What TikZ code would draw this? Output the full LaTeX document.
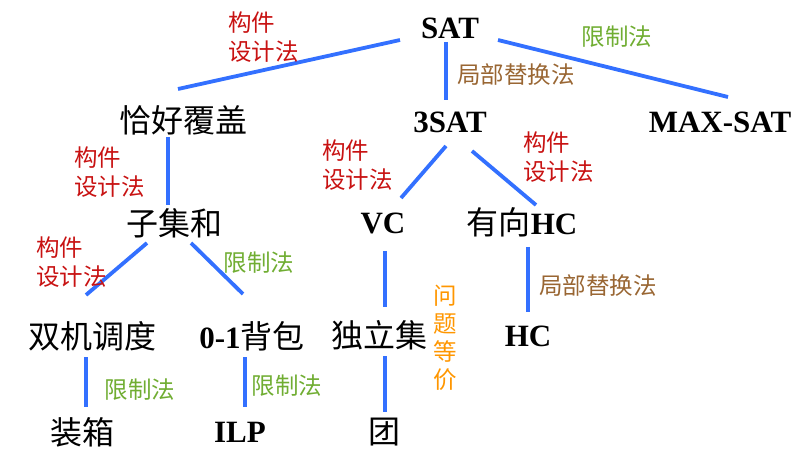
\documentclass[tikz,border=0pt]{standalone}
\usepackage{fontspec}
\setmainfont{Liberation Serif}
\newfontfamily\cjk{Noto Sans CJK SC}
\definecolor{edgeblue}{RGB}{51,112,255}
\definecolor{lblred}{RGB}{200,18,18}
\definecolor{lblgreen}{RGB}{112,173,50}
\definecolor{lblbrown}{RGB}{153,102,51}
\definecolor{lblorange}{RGB}{255,150,0}
\tikzset{
  prob/.style={inner sep=0pt, anchor=center, font=\fontsize{31}{31}\selectfont\bfseries},
  cprob/.style={inner sep=0pt, anchor=center, font=\cjk\fontsize{32}{32}\selectfont},
  lbl/.style={inner sep=0pt, align=left, font=\cjk\fontsize{23.5}{29.5}\selectfont},
  gzlbl/.style={lbl, text=lblred, anchor=west},
  xzlbl/.style={lbl, text=lblgreen, anchor=center},
  jblbl/.style={lbl, text=lblbrown, anchor=center},
  edge/.style={draw=edgeblue, line width=3.8pt}
}
\begin{document}
\begin{tikzpicture}[x=1pt,y=-1pt]
\useasboundingbox (0,0) rectangle (808,470);
% problems
\node[prob] (sat) at (450,28) {SAT};
\node[cprob] (exact) at (183,120) {恰好覆盖};
\node[prob] (sat3) at (450,122) {3SAT};
\node[prob] (maxsat) at (720,122) {MAX-SAT};
\node[cprob] (subset) at (174,223) {子集和};
\node[prob] (vc) at (383,223) {VC};
\node[prob] (dhc) at (522,222) {{\cjk\mdseries\fontsize{32}{32}\selectfont 有向}HC};
\node[cprob] (twomach) at (92,336) {双机调度};
\node[prob] (knap) at (252,336) {0-1{\cjk\mdseries\fontsize{32}{32}\selectfont 背包}};
\node[cprob] (indep) at (379,335) {独立集};
\node[prob] (hc) at (528,336) {HC};
\node[cprob] (binpack) at (82,432) {装箱};
\node[prob] (ilp) at (240,432) {ILP};
\node[cprob] (clique) at (384,432) {团};
% connectors
\draw[edge] ([shift={(-50,12)}]sat.center) -- ([shift={(-5,-31)}]exact.center);
\draw[edge] ([shift={(-4,14)}]sat.center) -- ([shift={(-4,-22)}]sat3.center);
\draw[edge] ([shift={(48,12)}]sat.center) -- ([shift={(8,-25)}]maxsat.center);
\draw[edge] ([shift={(-15,17)}]exact.center) -- ([shift={(-6,-18)}]subset.center);
\draw[edge] ([shift={(-4,24)}]sat3.center) -- ([shift={(18,-25)}]vc.center);
\draw[edge] ([shift={(22,29)}]sat3.center) -- ([shift={(14,-17)}]dhc.center);
\draw[edge] ([shift={(-27,20)}]subset.center) -- ([shift={(-6,-41)}]twomach.center);
\draw[edge] ([shift={(17,20)}]subset.center) -- ([shift={(-9,-42)}]knap.center);
\draw[edge] ([shift={(2,28)}]vc.center) -- ([shift={(6,-28)}]indep.center);
\draw[edge] ([shift={(6,25)}]dhc.center) -- ([shift={(0,-24)}]hc.center);
\draw[edge] ([shift={(-6,21)}]twomach.center) -- ([shift={(4,-25)}]binpack.center);
\draw[edge] ([shift={(-7,21)}]knap.center) -- ([shift={(5,-25)}]ilp.center);
\draw[edge] ([shift={(6,21)}]indep.center) -- ([shift={(1,-20)}]clique.center);
% labels
\node[gzlbl] (l1) at (228,37) {构件\\设计法};
\node[jblbl] (l2) at (516,75) {局部替换法};
\node[xzlbl] (l3) at (617,37) {限制法};
\node[gzlbl] (l4) at (74,172) {构件\\设计法};
\node[gzlbl] (l5) at (322,165) {构件\\设计法};
\node[gzlbl] (l6) at (523,157) {构件\\设计法};
\node[gzlbl] (l7) at (36,262) {构件\\设计法};
\node[xzlbl] (l8) at (259,263) {限制法};
\node[jblbl] (l9) at (598,286) {局部替换法};
\node[lbl, align=center, anchor=center, text=lblorange, font=\cjk\fontsize{23.5}{28}\selectfont] (l10) at (445,338) {问\\题\\等\\价};
\node[xzlbl] (l11) at (140,390) {限制法};
\node[xzlbl] (l12) at (287,386) {限制法};
\end{tikzpicture}
\end{document}
